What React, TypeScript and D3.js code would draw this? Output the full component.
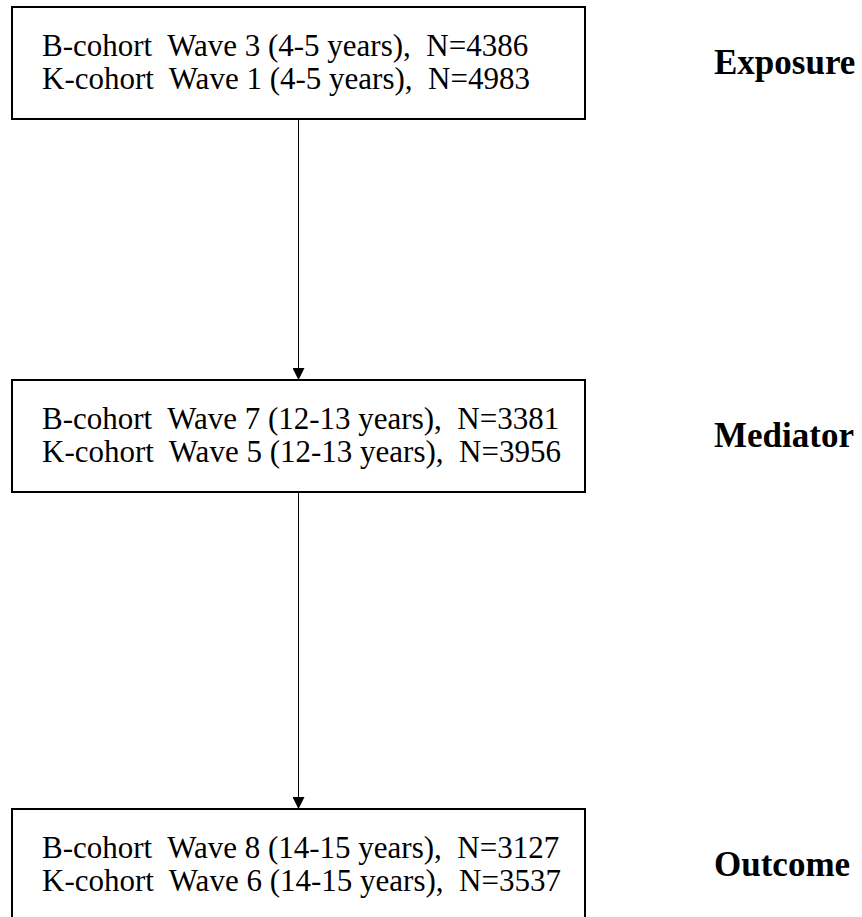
import React from 'react'
import * as d3 from 'd3'

// stage labels and sample details per stage
const stages = ['Exposure', 'Mediator', 'Outcome']
const bWaves = [3, 7, 8]
const kWaves = [1, 5, 6]
const ageBands = ['4-5', '12-13', '14-15']
const bCounts = [4386, 3381, 3127]
const kCounts = [4983, 3956, 3537]

const width = 862
const height = 917
const boxLeft = 12
const boxRight = 585
const boxH = 112
const serif = '"Liberation Serif", "Times New Roman", serif'

function App() {
    // vertical placement of each stage box
    const y = d3.scaleOrdinal<string, number>()
        .domain(stages)
        .range([7, 380, 809])

    const cx = (boxLeft + boxRight) / 2

    const rows = stages.map((s, i) => ({
        stage: s,
        top: y(s),
        lines: [
            `B-cohort  Wave ${bWaves[i]} (${ageBands[i]} years),  N=${bCounts[i]}`,
            `K-cohort  Wave ${kWaves[i]} (${ageBands[i]} years),  N=${kCounts[i]}`
        ]
    }))

    const arrows = d3.pairs(rows)

    return (
        <svg width={width} height={height} viewBox={`0 0 ${width} ${height}`}
            style={{ position: 'absolute', left: 0, top: 0, background: '#fff' }}>
            <defs>
                <marker id="head" viewBox="0 0 12 12" refX="12" refY="6"
                    markerWidth="12" markerHeight="12" markerUnits="userSpaceOnUse" orient="auto">
                    <path d="M0,0 L12,6 L0,12 Z" fill="#000" />
                </marker>
            </defs>

            {arrows.map(([a, b], i) => (
                <line key={'a' + i} x1={cx} x2={cx} y1={a.top + boxH} y2={b.top}
                    stroke="#000" strokeWidth={1} markerEnd="url(#head)" />
            ))}

            {rows.map(r => (
                <g key={r.stage}>
                    <rect x={boxLeft} y={r.top} width={boxRight - boxLeft} height={boxH}
                        fill="#fff" stroke="#000" strokeWidth={2} />
                    {r.lines.map((t, j) => (
                        <text key={j} x={42} y={r.top + 49 + j * 33}
                            fontFamily={serif} fontSize={31} fill="#000"
                            xmlSpace="preserve" style={{ whiteSpace: 'pre' }}>{t}</text>
                    ))}
                    <text x={714} y={r.top + boxH / 2 + 11}
                        fontFamily={serif} fontSize={35} fontWeight="bold" fill="#000">{r.stage}</text>
                </g>
            ))}
        </svg>
    )
}

export default App
